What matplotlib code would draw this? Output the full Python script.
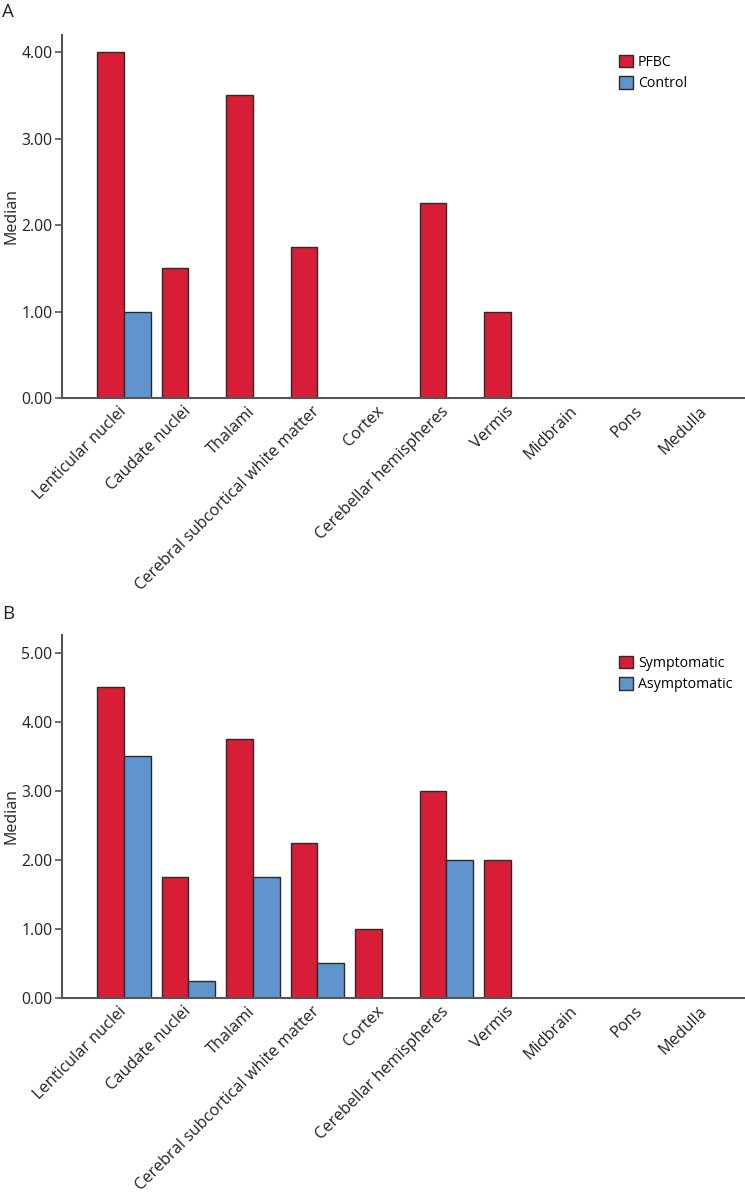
import matplotlib
matplotlib.use("Agg")
import matplotlib.pyplot as plt
import matplotlib.transforms as mtransforms
import numpy as np
from matplotlib.patches import Patch

plt.rcParams['font.family'] = ['Open Sans', 'DejaVu Sans']

categories = ["Lenticular nuclei", "Caudate nuclei", "Thalami",
              "Cerebral subcortical white matter", "Cortex",
              "Cerebellar hemispheres", "Vermis", "Midbrain", "Pons", "Medulla"]

pfbc = [4.0, 1.5, 3.5, 1.75, 0.0, 2.25, 1.0, 0.0, 0.0, 0.0]
control = [1.0, 0.0, 0.0, 0.0, 0.0, 0.0, 0.0, 0.0, 0.0, 0.0]

symptomatic = [4.5, 1.75, 3.75, 2.25, 1.0, 3.0, 2.0, 0.0, 0.0, 0.0]
asymptomatic = [3.5, 0.25, 1.75, 0.5, 0.0, 2.0, 0.0, 0.0, 0.0, 0.0]

yticks_a = [0, 1, 2, 3, 4]
yticks_b = [0, 1, 2, 3, 4, 5]

RED = "#D81E37"
BLUE = "#5F94CD"
EDGE = "#2a2a2a"
SPINE = "#555555"
TXT = "#222222"

W, H = 745, 1194
fig = plt.figure(figsize=(W / 100, H / 100), dpi=100)


def make_panel(rect, s1, s2, names, ymax, yticks, letter, letter_y, leg_y):
    ax = fig.add_axes(rect)
    x = np.arange(len(categories))
    bw = 0.414
    for xi, v in zip(x, s1):
        if v > 0:
            ax.bar(xi - bw / 2, v, width=bw, color=RED, edgecolor=EDGE, linewidth=1.0)
    for xi, v in zip(x, s2):
        if v > 0:
            ax.bar(xi + bw / 2, v, width=bw, color=BLUE, edgecolor=EDGE, linewidth=1.0)
    ax.set_xlim(-0.96, 9.63)
    ax.set_ylim(0, ymax)
    ax.set_yticks(yticks)
    ax.set_yticklabels([f"{t:.2f}" for t in yticks], fontsize=11.3, color=TXT)
    ax.set_xticks(x)
    ax.set_xticklabels(categories, rotation=45, ha='right', va='center',
                       rotation_mode='anchor', fontsize=11.7, color=TXT)
    offset = mtransforms.ScaledTranslation(8 / 100, 0, fig.dpi_scale_trans)
    for lab in ax.get_xticklabels():
        lab.set_transform(lab.get_transform() + offset)
    ax.tick_params(axis='x', length=0, pad=8)
    ax.tick_params(axis='y', length=5, width=1.2, color=SPINE, pad=2)
    for s in ['top', 'right']:
        ax.spines[s].set_visible(False)
    for s in ['left', 'bottom']:
        ax.spines[s].set_color(SPINE)
        ax.spines[s].set_linewidth(1.5)
    ax.set_ylabel("Median", fontsize=11.5, color=TXT)
    ax.yaxis.set_label_coords(-0.062, 0.5)
    handles = [Patch(facecolor=RED, edgecolor=EDGE, linewidth=1.0, label=names[0]),
               Patch(facecolor=BLUE, edgecolor=EDGE, linewidth=1.0, label=names[1])]
    ax.legend(handles=handles, loc='upper left', bbox_to_anchor=(0.8155, leg_y),
              frameon=False, fontsize=10.2, handlelength=1.0, handleheight=1.0,
              handletextpad=0.35, labelspacing=0.45, borderaxespad=0, borderpad=0)
    fig.text(0.003, letter_y, letter, fontsize=13.5, color=TXT, va='top', ha='left')
    return ax


axA = make_panel([62 / W, 1 - 398 / H, (W - 62) / W, (398 - 35) / H],
                 pfbc, control, ["PFBC", "Control"], 4.197, yticks_a, "A", 1 - 3 / H, 0.946)
axB = make_panel([62 / W, 1 - 998 / H, (W - 62) / W, (998 - 635) / H],
                 symptomatic, asymptomatic, ["Symptomatic", "Asymptomatic"], 5.26,
                 yticks_b, "B", 1 - 605 / H, 0.943)

fig.savefig("out.png", dpi=100)
